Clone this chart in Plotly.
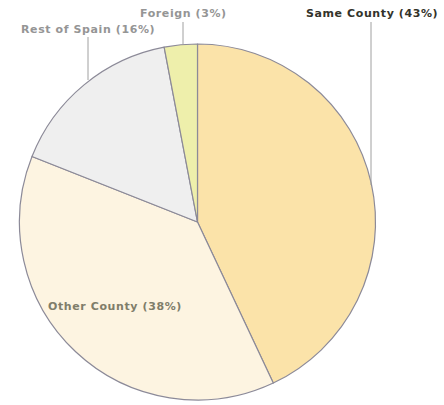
import plotly.graph_objects as go

# Origin of residents, share by place of birth
labels = ["Same County", "Other County", "Rest of Spain", "Foreign"]
values = [43, 38, 16, 3]
colors = ["#fbe3a9", "#fdf4e1", "#efefef", "#eeefab"]

W, H = 444, 405

def px(x):
    return x / W

def py(y):
    return 1 - y / H

fig = go.Figure(go.Pie(
    labels=labels,
    values=values,
    sort=False,
    direction="clockwise",
    rotation=0,
    marker=dict(colors=colors, line=dict(color="#8c8a98", width=1.2)),
    textinfo="none",
    hoverinfo="label+percent",
    domain=dict(x=[px(19), px(376)], y=[py(400), py(44)]),
    showlegend=False,
))

font = dict(family="DejaVu Sans, Verdana, sans-serif", size=11)

# label text: (label, centre x, centre y, colour)
label_pos = {
    "Same County": (372, 14, "#33332a"),
    "Foreign": (183, 14, "#959595"),
    "Rest of Spain": (88, 29, "#959595"),
    "Other County": (115, 306, "#7f7d6a"),
}
annotations = []
for lab, val in zip(labels, values):
    x, y, c = label_pos[lab]
    annotations.append(dict(
        x=px(x), y=py(y), xref="paper", yref="paper",
        text=f"<span style='letter-spacing:0.6px'><b>{lab} ({val}%)</b></span>",
        showarrow=False,
        font=dict(font, color=c), xanchor="center", yanchor="middle",
    ))

# leader lines from labels down to the pie edge
leaders = [(371, 22, 185), (183, 22, 44), (88, 37, 80)]
shapes = [dict(type="line", xref="paper", yref="paper",
               x0=px(x), x1=px(x), y0=py(y0), y1=py(y1),
               line=dict(color="#a0a0a0", width=1))
          for x, y0, y1 in leaders]

fig.update_layout(
    width=W, height=H,
    margin=dict(l=0, r=0, t=0, b=0),
    paper_bgcolor="white",
    plot_bgcolor="white",
    annotations=annotations,
    shapes=shapes,
)

fig.write_html("out.html")
